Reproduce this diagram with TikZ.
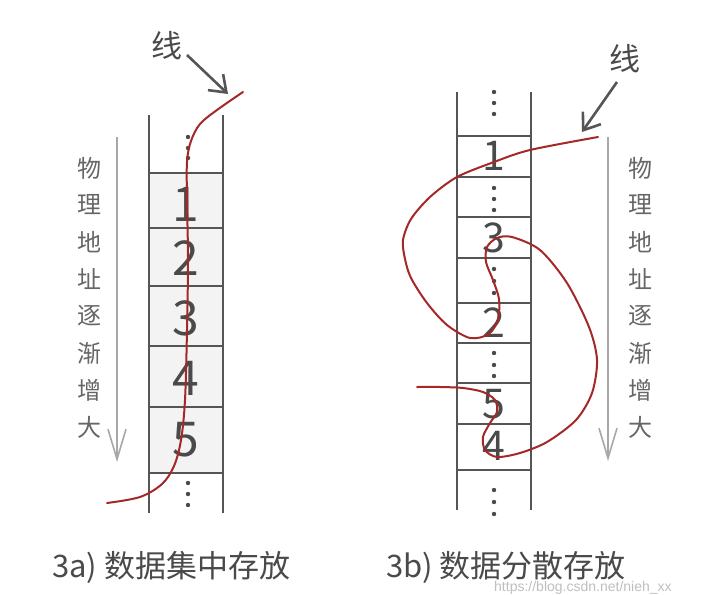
\documentclass[tikz,border=0pt]{standalone}
\usepackage{fontspec}
\setmainfont{Noto Sans CJK SC}
\newfontfamily\wmfont{Liberation Sans}
\usetikzlibrary{arrows.meta}
\definecolor{wall}{HTML}{555555}
\definecolor{curve}{RGB}{165,40,40}
\definecolor{axis}{HTML}{A8A8A8}
\definecolor{txt}{HTML}{4A4A4A}
\definecolor{lbl}{HTML}{666666}
\definecolor{cellfill}{HTML}{F3F3F3}
\tikzset{
  wallline/.style={draw=wall, line width=2pt},
  sepline/.style={draw=wall, line width=1.8pt},
  redline/.style={draw=curve, line width=2pt, line cap=round},
  axisline/.style={draw=axis, line width=1.6pt, -{Straight Barb[length=30pt,width=18pt,line width=1.6pt]}},
  pointer/.style={draw=wall, line width=2.6pt, -{Straight Barb[length=15pt,width=22pt,line width=2.6pt]}},
  bignum/.style={text=txt, inner sep=0pt, font=\fontsize{48}{50}\selectfont},
  smallnum/.style={text=txt, inner sep=0pt, font=\fontsize{41}{44}\selectfont},
  vlabel/.style={text=lbl, inner sep=0pt, font=\fontsize{24}{26}\selectfont},
  xian/.style={text=txt, inner sep=0pt, font=\fontsize{31}{33}\selectfont},
  caption/.style={text=txt, inner sep=0pt, anchor=base west, font=\fontsize{31}{34}\selectfont},
  dotmark/.style={fill=txt, draw=none},
}
\begin{document}
\begin{tikzpicture}[x=1pt,y=-1pt]
\useasboundingbox (0,0) rectangle (703,594);
\fill[white] (0,0) rectangle (703,594);

% ---------- left column (3a) ----------
\fill[cellfill] (149,173) rectangle (223,473);
\draw[wallline] (149,115) -- (149,513);
\draw[wallline] (223,115) -- (223,513);
\foreach \yy in {173,228,286,346,407,473} \draw[sepline] (149,\yy) -- (223,\yy);
\node[bignum] (a1) at (186,204) {1};
\node[bignum] (a2) at (186,258) {2};
\node[bignum] (a3) at (186,318) {3};
\node[bignum] (a4) at (186,378) {4};
\node[bignum] (a5) at (186,440) {5};
\foreach \yy in {137,148,158,483,494,505} \fill[dotmark] (188,\yy) circle (2.2pt);

% left axis
\coordinate (axAtop) at (117,137);
\coordinate (axAbot) at (117,462);
\draw[axisline] (axAtop) -- (axAbot);
\foreach \ch [count=\i] in {物,理,地,址,逐,渐,增,大} {
  \pgfmathsetmacro{\yy}{168+(\i-1)*37}
  \node[vlabel] (la\i) at (89,\yy) {\ch};
}

% left red curve
\draw[redline] plot[smooth, tension=0.55] coordinates {
  (243,92) (217,110) (200,124) (191,141) (187,162) (187,200) (188,260)
  (187,330) (185,400) (181,440) (174,466) (162,484) (140,497) (107,503)};

% left label
\node[xian] (xianA) at (167,46) {线};
\coordinate (pA1) at (187,55);
\coordinate (pA2) at (228,94);
\draw[pointer] (pA1) -- (pA2);

% ---------- right column (3b) ----------
\draw[wallline] (457,92) -- (457,510);
\draw[wallline] (531,92) -- (531,510);
\foreach \yy in {136,177,217,258,303,343,383,424,470} \draw[sepline] (457,\yy) -- (531,\yy);
\node[smallnum] (b1) at (494,156) {1};
\node[smallnum] (b3) at (494,238) {3};
\node[smallnum] (b2) at (494,323) {2};
\node[smallnum] (b5) at (494,404) {5};
\node[smallnum] (b4) at (494,446) {4};
\foreach \yy in {92,103,114,188,199,210,269,281,293,353,365,376,490,502,514} \fill[dotmark] (494,\yy) circle (2.2pt);

% right axis
\coordinate (axBtop) at (608,137);
\coordinate (axBbot) at (608,461);
\draw[axisline] (axBtop) -- (axBbot);
\foreach \ch [count=\i] in {物,理,地,址,逐,渐,增,大} {
  \pgfmathsetmacro{\yy}{168+(\i-1)*37}
  \node[vlabel] (lb\i) at (640,\yy) {\ch};
}

% right red curve
\draw[redline] plot[smooth, tension=0.5] coordinates {
  (598,137) (530,150) (494,162) (457,177) (430,197) (411,219) (403,240)
  (405,259) (411,278) (427,303) (447,325) (470,338) (489,334) (498,319)
  (499,299) (493,280) (486,262) (487,247) (497,238) (512,237) (540,250)
  (567,283) (589,327) (597,360) (592,393) (576,420) (547,442) (520,453)
  (497,457) (485,450) (483,437) (490,423) (497,412) (495,400) (483,392)
  (463,388) (440,387) (417,387)};

% right label
\node[xian] (xianB) at (625,59) {线};
\coordinate (pB1) at (617,82);
\coordinate (pB2) at (582,132);
\draw[pointer] (pB1) -- (pB2);

% ---------- captions ----------
\node[caption] (capA) at (52,577) {3a) 数据集中存放};
\node[caption] (capB) at (386,577) {3b) 数据分散存放};
\node[inner sep=0pt, anchor=base west, text=black!25, font=\wmfont\fontsize{14}{16}\selectfont] (wm) at (494,591) {https://blog.csdn.net/nieh\_xx};
\end{tikzpicture}
\end{document}
